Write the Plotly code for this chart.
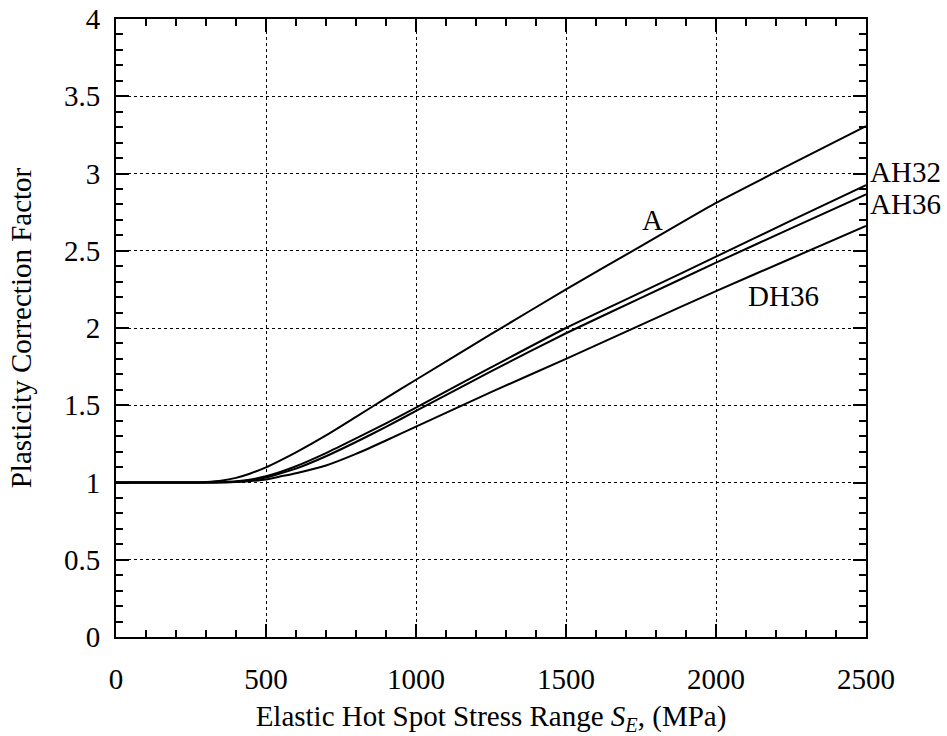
import plotly.graph_objects as go

stress = [0, 100, 200, 250, 300, 350, 400, 450, 500, 550, 600, 700, 800, 900, 1000, 1250, 1500, 1750, 2000, 2250, 2500]

factor_A = [1.0, 1.0, 1.0, 1.0, 1.004, 1.012, 1.03, 1.06, 1.098, 1.145, 1.195, 1.305, 1.425, 1.546, 1.665, 1.96, 2.25, 2.53, 2.81, 3.06, 3.307]
factor_AH32 = [1.0, 1.0, 1.0, 1.0, 1.0, 1.003, 1.008, 1.02, 1.04, 1.07, 1.105, 1.19, 1.285, 1.383, 1.485, 1.745, 2.0, 2.23, 2.462, 2.695, 2.925]
factor_AH36 = [1.0, 1.0, 1.0, 1.0, 1.0, 1.001, 1.005, 1.015, 1.032, 1.06, 1.09, 1.17, 1.262, 1.36, 1.463, 1.72, 1.966, 2.195, 2.423, 2.645, 2.865]
factor_DH36 = [1.0, 1.0, 1.0, 1.0, 1.0, 1.0, 1.003, 1.01, 1.02, 1.04, 1.06, 1.11, 1.185, 1.272, 1.362, 1.585, 1.80, 2.02, 2.239, 2.45, 2.66]

series = {"A": factor_A, "AH32": factor_AH32, "AH36": factor_AH36, "DH36": factor_DH36}

x_ticks = [0, 500, 1000, 1500, 2000, 2500]
y_ticks = [0, 0.5, 1, 1.5, 2, 2.5, 3, 3.5, 4]
y_tick_text = ["0", "0.5", "1", "1.5", "2", "2.5", "3", "3.5", "4"]

# label positions (data coords)
labels = [
    ("A", 1788, 2.70, "center"),
    ("AH32", 2500, 3.01, "left"),
    ("AH36", 2500, 2.80, "left"),
    ("DH36", 2224, 2.21, "center"),
]

font_family = "Liberation Serif, Times New Roman, serif"
FS = 29

fig = go.Figure()
for name, vals in series.items():
    fig.add_trace(go.Scatter(x=stress, y=vals, mode="lines", name=name,
                             line=dict(color="black", width=2, shape="spline", smoothing=0.5),
                             showlegend=False, hoverinfo="skip"))

for text, xv, yv, align in labels:
    fig.add_annotation(x=xv, y=yv, text=text, showarrow=False,
                       xanchor=align, xshift=2 if align == "left" else 0,
                       font=dict(family=font_family, size=FS, color="black"))

axis_common = dict(
    showline=True, linecolor="black", linewidth=2, mirror="ticks",
    ticks="inside", ticklen=13, tickwidth=2, tickcolor="black",
    showgrid=True, gridcolor="black", gridwidth=1, griddash="dot",
    zeroline=False, ticklabeloverflow="allow", automargin=False,
    tickfont=dict(family=font_family, size=FS, color="black"),
)

fig.update_xaxes(range=[0, 2500], tickvals=x_ticks, **axis_common,
                 minor=dict(dtick=100, ticks="inside", ticklen=7, tickwidth=2, tickcolor="black", showgrid=False),
                 title=dict(text="Elastic Hot Spot Stress Range <i>S</i><sub><i>E</i></sub>, (MPa)",
                            font=dict(family=font_family, size=FS, color="black"), standoff=14),
                 ticklabelstandoff=15)
fig.update_yaxes(range=[0, 4], tickvals=y_ticks, ticktext=y_tick_text, **axis_common,
                 minor=dict(dtick=0.1, ticks="inside", ticklen=7, tickwidth=2, tickcolor="black", showgrid=False),
                 title=dict(text="Plasticity Correction Factor",
                            font=dict(family=font_family, size=FS, color="black"), standoff=24),
                 ticklabelstandoff=8)

fig.update_layout(
    width=947, height=736,
    margin=dict(l=116, r=81, t=19, b=99, autoexpand=False),
    plot_bgcolor="white", paper_bgcolor="white",
    font=dict(family=font_family, color="black"),
)

fig.write_html("out.html", config={"displayModeBar": False},
               post_script="document.body.style.margin='0px';")
